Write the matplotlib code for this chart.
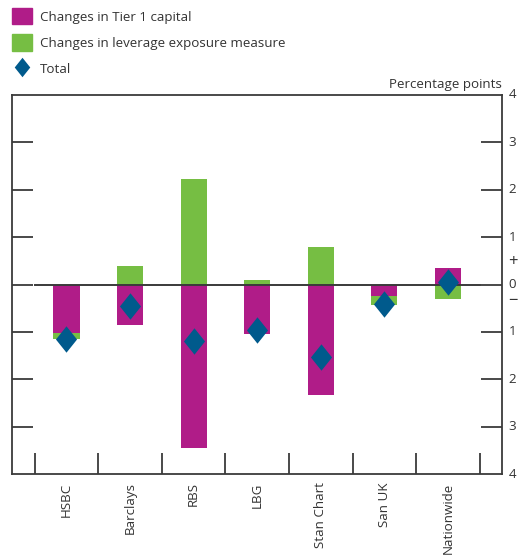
import matplotlib
matplotlib.use("Agg")
import matplotlib.pyplot as plt
import numpy as np
from matplotlib.path import Path
from matplotlib.patches import Patch
from matplotlib.lines import Line2D

plt.rcParams['font.family'] = ['Open Sans', 'DejaVu Sans']

# data (percentage points)
banks = ['HSBC', 'Barclays', 'RBS', 'LBG', 'Stan Chart', 'San UK', 'Nationwide']
tier1 = [-1.03, -0.85, -3.45, -1.04, -2.33, -0.25, 0.35]
leverage = [-0.12, 0.39, 2.22, 0.09, 0.79, -0.18, -0.31]
total = [-1.15, -0.46, -1.20, -0.95, -1.53, -0.41, 0.06]

magenta = '#B01C88'
green = '#76BE43'
blue = '#005A8C'
dark = '#3a3a3a'
txt = '#333333'
fs = 9.6

fig = plt.figure(figsize=(5.24, 5.55), dpi=100)
ax = fig.add_axes([12/524, 81/555, 490/524, 379/555])

x = np.arange(len(banks))
w = 0.41

# stack positives and negatives separately
t1 = np.array(tier1)
lev = np.array(leverage)
lev_bottom = np.where(np.sign(lev) == np.sign(t1), t1, 0)

ax.bar(x, t1, w, color=magenta, zorder=2)
ax.bar(x, lev, w, bottom=lev_bottom, color=green, zorder=2)

diamond = Path([(0, 1), (0.8, 0), (0, -1), (-0.8, 0), (0, 1)],
               [Path.MOVETO, Path.LINETO, Path.LINETO, Path.LINETO, Path.CLOSEPOLY])
ax.plot(x, total, linestyle='none', marker=diamond, markersize=19,
        color=blue, markeredgewidth=0, zorder=4)

ax.plot([-0.5, 6.5], [0, 0], color=dark, lw=1.4, zorder=3)

ax.set_xlim(-0.857, 6.85)
ax.set_ylim(-4, 4)

for s in ax.spines.values():
    s.set_color(dark)
    s.set_linewidth(1.3)

# y ticks both sides, pointing inward
ax.set_yticks(range(-3, 4))
ax.tick_params(axis='y', which='both', direction='in', length=15, width=1.3,
               color=dark, left=True, right=True, labelleft=False, labelright=False)
for v in range(-4, 5):
    ax.text(1.014, (v + 4) / 8, str(abs(v)), transform=ax.transAxes,
            ha='left', va='center', fontsize=fs, color=txt)
ax.text(1.012, (0.47 + 4) / 8, '+', transform=ax.transAxes,
        ha='left', va='center', fontsize=12, color=txt)
ax.text(1.012, (-0.35 + 4) / 8, '\u2212', transform=ax.transAxes,
        ha='left', va='center', fontsize=12, color=txt)

# category boundary ticks on x axis
ax.set_xticks(np.arange(-0.5, 7, 1))
ax.set_xticklabels([])
ax.tick_params(axis='x', direction='in', length=15, width=1.3, color=dark)
for i, b in enumerate(banks):
    ax.text(i, -0.022, b, transform=ax.get_xaxis_transform(), rotation=90,
            ha='center', va='top', fontsize=fs, color=txt)

ax.text(1.0, 1.01, 'Percentage points', transform=ax.transAxes,
        ha='right', va='bottom', fontsize=fs, color=txt)

handles = [Patch(color=magenta), Patch(color=green),
           Line2D([], [], linestyle='none', marker=diamond, markersize=14,
                  color=blue, markeredgewidth=0)]
labels = ['Changes in Tier 1 capital', 'Changes in leverage exposure measure', 'Total']
fig.legend(handles, labels, loc='upper left', bbox_to_anchor=(0.008, 1.0),
           frameon=False, fontsize=fs, labelcolor=txt, handlelength=1.45,
           handleheight=1.5, handletextpad=0.6, labelspacing=0.75, borderaxespad=0.2)

fig.savefig('out.png', dpi=100)
